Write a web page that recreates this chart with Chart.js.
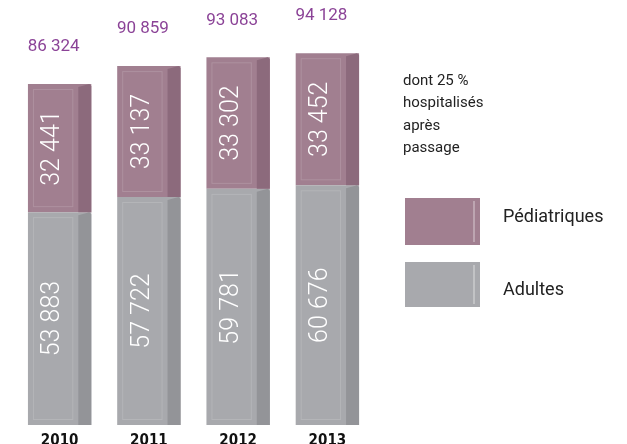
<!DOCTYPE html>
<html>
<head>
<meta charset="utf-8">
<script src="https://cdn.jsdelivr.net/npm/chart.js@4.4.0/dist/chart.umd.min.js"></script>
<style>
  html, body { margin: 0; padding: 0; background: #fff; }
  #wrap { width: 627px; height: 444px; }
</style>
</head>
<body>
<div id="wrap"><canvas id="chart"></canvas></div>
<script>
// Passages aux urgences par année
const years = ['2010', '2011', '2012', '2013'];
const adultes = [53883, 57722, 59781, 60676];
const pediatriques = [32441, 33137, 33302, 33452];
const totaux = [86324, 90859, 93083, 94128];
const noteLines = ['dont 25 %', 'hospitalisés', 'après', 'passage'];

const COLORS = {
    ped: '#a17f90', pedSide: '#8c6a7c',
    adu: '#a8a9ad', aduSide: '#939498',
    total: '#8b4397'
};
const SIDE = 13;

const fmt = n => String(n).replace(/\B(?=(\d{3})+(?!\d))/g, ' ');

const barDeco = {
    id: 'barDeco',
    afterDatasetsDraw(chart) {
        const ctx = chart.ctx;
        chart.data.datasets.forEach((ds, i) => {
            chart.getDatasetMeta(i).data.forEach((bar, j) => {
                const { x, y, base, width } = bar.getProps(['x', 'y', 'base', 'width'], true);
                const left = x - width / 2, right = x + width / 2;
                const top = Math.min(y, base), h = Math.abs(base - y);

                // face latérale plus sombre
                ctx.fillStyle = ds.sideColor;
                ctx.beginPath();
                ctx.moveTo(right - SIDE, top + 3);
                ctx.lineTo(right - 2, top);
                ctx.lineTo(right, top + 2);
                ctx.lineTo(right, top + h);
                ctx.lineTo(right - SIDE, top + h);
                ctx.closePath();
                ctx.fill();

                // reflet intérieur
                ctx.strokeStyle = 'rgba(255,255,255,0.14)';
                ctx.lineWidth = 1;
                ctx.strokeRect(left + 5.5, top + 5.5, width - SIDE - 11, h - 11);

                // valeur verticale
                ctx.save();
                ctx.translate(left + (width - SIDE) / 2, top + h / 2);
                ctx.rotate(-Math.PI / 2);
                ctx.fillStyle = '#fff';
                ctx.font = '300 25px Roboto';
                ctx.textAlign = 'center';
                ctx.textBaseline = 'middle';
                ctx.fillText(fmt(ds.data[j]), 0, 0);
                ctx.restore();
            });
        });

        // totaux au-dessus des barres
        const last = chart.getDatasetMeta(chart.data.datasets.length - 1);
        ctx.fillStyle = COLORS.total;
        ctx.font = '17px Roboto';
        ctx.textAlign = 'center';
        ctx.textBaseline = 'middle';
        last.data.forEach((bar, j) => {
            ctx.fillText(fmt(totaux[j]), bar.x - 6, bar.y - 37);
        });
    },
    afterDraw(chart) {
        const ctx = chart.ctx;
        ctx.save();
        ctx.fillStyle = '#222';
        ctx.font = '15px Roboto';
        ctx.textAlign = 'left';
        ctx.textBaseline = 'middle';
        noteLines.forEach((line, k) => ctx.fillText(line, 403, 81 + k * 22.5));

        const box = (yTop, h, c, label, ty) => {
            ctx.fillStyle = c;
            ctx.fillRect(405, yTop, 75, h);
            ctx.fillStyle = 'rgba(255,255,255,0.3)';
            ctx.fillRect(473, yTop + 3, 2, h - 6);
            ctx.fillStyle = '#222';
            ctx.font = '18px Roboto';
            ctx.fillText(label, 503, ty);
        };
        box(198, 47, COLORS.ped, chart.data.datasets[1].label, 217);
        box(262, 45, COLORS.adu, chart.data.datasets[0].label, 290);
        ctx.restore();
    }
};

new Chart(document.getElementById('chart'), {
    type: 'bar',
    data: {
        labels: years,
        datasets: [
            { label: 'Adultes', data: adultes, backgroundColor: COLORS.adu, sideColor: COLORS.aduSide },
            { label: 'Pédiatriques', data: pediatriques, backgroundColor: COLORS.ped, sideColor: COLORS.pedSide }
        ]
    },
    options: {
        responsive: true,
        maintainAspectRatio: false,
        animation: false,
        layout: { padding: { left: 15, right: 255, top: 30, bottom: -6 } },
        datasets: { bar: { categoryPercentage: 1, barPercentage: 0.71, borderWidth: 0 } },
        scales: {
            x: {
                stacked: true,
                grid: { display: false },
                border: { display: false },
                ticks: {
                    color: '#111',
                    padding: 1,
                    font: { family: '"DejaVu Sans Condensed", "Liberation Sans Narrow", sans-serif', size: 15, weight: 'bold', lineHeight: 1 }
                }
            },
            y: { stacked: true, display: false, min: 0, max: 100000 }
        },
        plugins: { legend: { display: false }, tooltip: { enabled: false } }
    },
    plugins: [barDeco]
});
</script>
</body>
</html>
